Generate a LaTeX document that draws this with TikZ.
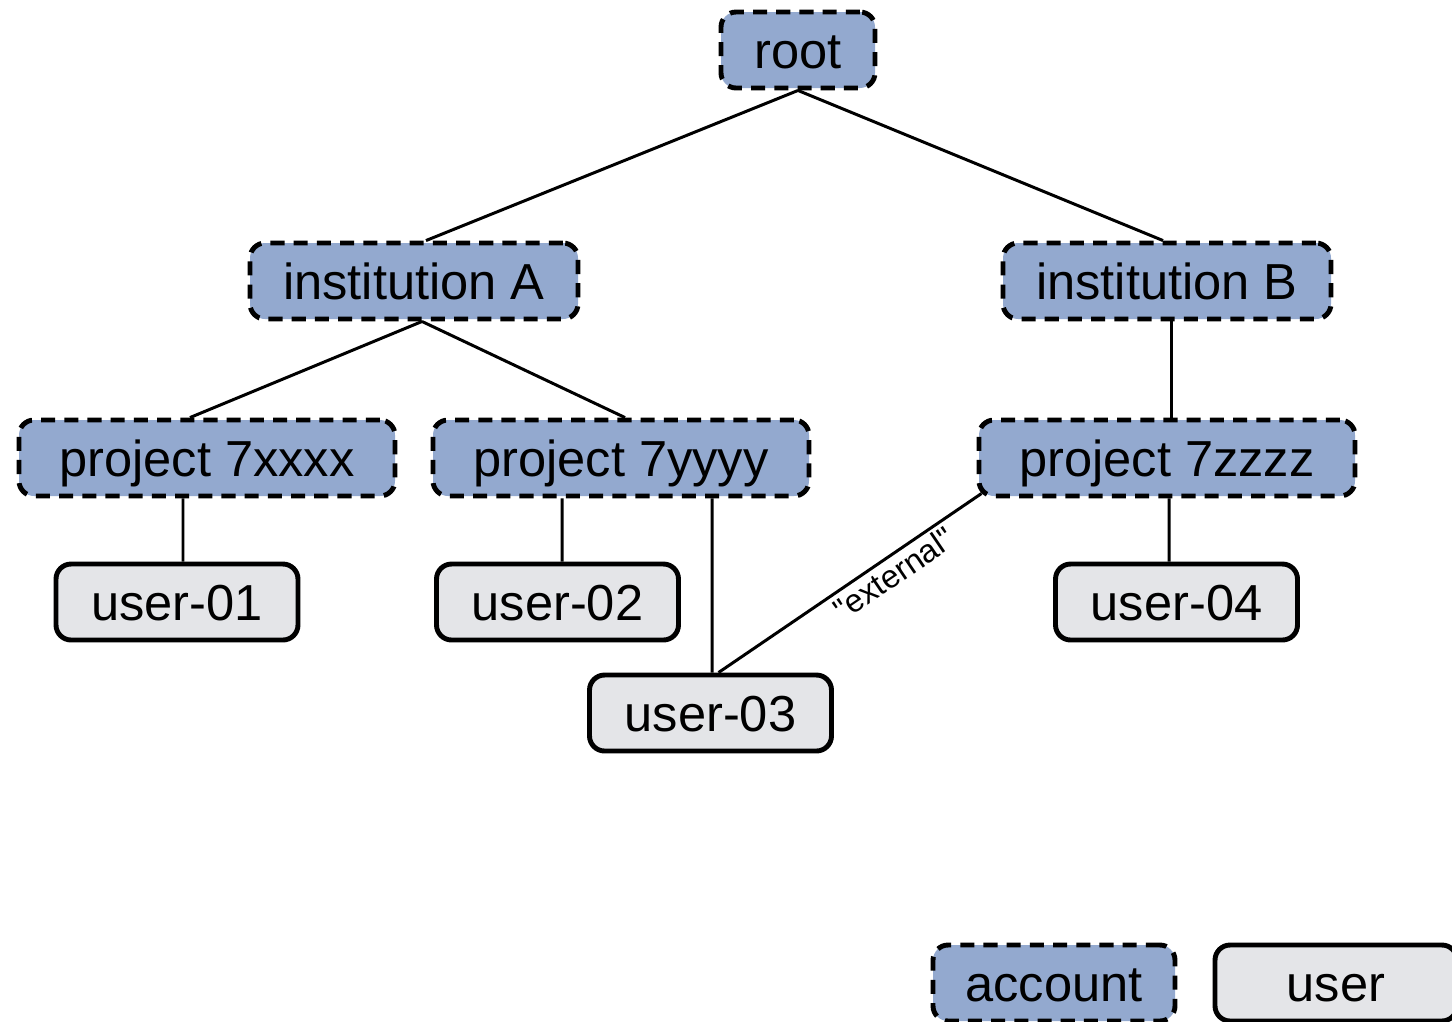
\documentclass[tikz,border=0pt]{standalone}
\usepackage{fontspec}
\setmainfont{Liberation Sans}
\usepackage{tikz}
\usetikzlibrary{positioning}
\usepackage{xcolor}
\definecolor{acctblue}{RGB}{147,169,207}
\definecolor{usergray}{RGB}{228,229,232}
\tikzstyle{treebox}=[rounded corners=4.3pt, line width=1.4pt, inner sep=0pt, minimum height=0.76cm, text height=10.3pt, text depth=0pt, font=\fontsize{14.4}{17}\selectfont]
\tikzstyle{account}=[treebox, draw, fill=acctblue, dash pattern=on 4pt off 2.6pt]
\tikzstyle{usr}=[treebox, draw, fill=usergray, minimum width=2.42cm]
\tikzstyle{link}=[line width=0.85pt]

\begin{document}
\begin{tikzpicture}
	\useasboundingbox (0,0) rectangle (14.52,-10.21);
	% accounts
	\node[account, minimum width=1.54cm] (root) at (7.98,-0.50) {root};
	\node[account, minimum width=3.28cm] (instA) at (4.14,-2.81) {institution A};
	\node[account, minimum width=3.28cm] (instB) at (11.67,-2.81) {institution B};
	\node[account, minimum width=3.76cm] (projX) at (2.07,-4.58) {project 7xxxx};
	\node[account, minimum width=3.76cm] (projY) at (6.21,-4.58) {project 7yyyy};
	\node[account, minimum width=3.76cm] (projZ) at (11.67,-4.58) {project 7zzzz};
	% users
	\node[usr] (userA) at (1.77,-6.02) {user-01};
	\node[usr] (userB) at (5.575,-6.02) {user-02};
	\node[usr] (userC) at (7.105,-7.13) {user-03};
	\node[usr] (userD) at (11.765,-6.02) {user-04};
	% links
	\draw[link] (root.south) -- ([xshift=0.12cm]instA.north);
	\draw[link] (root.south) -- ([xshift=-0.04cm]instB.north);
	\draw[link] ([xshift=0.08cm]instA.south) -- ([xshift=-0.17cm]projX.north);
	\draw[link] ([xshift=0.08cm]instA.south) -- ([xshift=0.04cm]projY.north);
	\draw[link] ([xshift=0.04cm]instB.south) -- ([xshift=0.04cm]projZ.north);
	\draw[link] ([xshift=-0.24cm]projX.south) -- ([xshift=0.06cm]userA.north);
	\draw[link] ([xshift=-0.59cm]projY.south) -- ([xshift=0.045cm]userB.north);
	\draw[link] ([xshift=0.91cm]projY.south) -- ([xshift=0.015cm]userC.north);
	\draw[link] ([xshift=0.02cm]projZ.south) -- ([xshift=-0.075cm]userD.north);
	\draw[link] ([shift={(0.05cm,0.05cm)}]projZ.south west) -- node[pos=0.37, sloped, below, inner sep=1pt, font=\fontsize{9.2}{11}\selectfont] {\textquotedbl external\textquotedbl} ([xshift=0.08cm]userC.north);
	% legend
	\node[account, minimum width=2.42cm] (legA) at (10.54,-9.83) {account};
	\node[usr] (legU) at (13.36,-9.83) {user};
\end{tikzpicture}
\end{document}
